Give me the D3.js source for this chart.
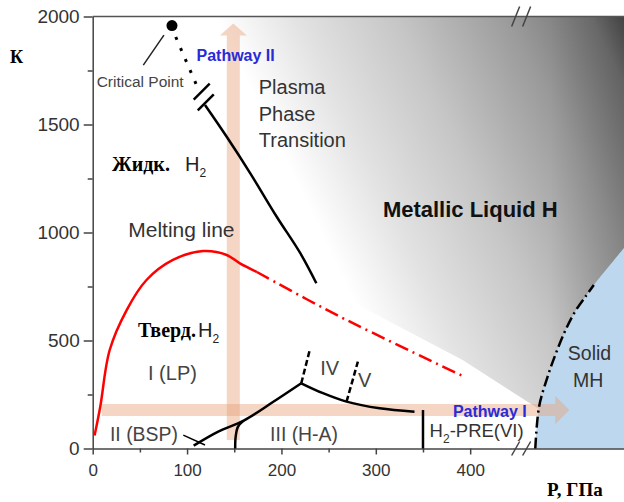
<!DOCTYPE html>
<html>
<head>
<meta charset="utf-8">
<script src="https://cdn.jsdelivr.net/npm/d3@7"></script>
<style>
  body { margin: 0; background: #fff; }
  text { font-family: "Liberation Sans", Arial, sans-serif; }
  .ru { font-family: "Liberation Serif", "Times New Roman", serif; font-weight: bold; fill: #000; }
</style>
</head>
<body>
<main></main>
<script>
// pressure P (GPa) and temperature T (K)
var xTicks = [0, 100, 200, 300, 400];
var xMinor = [50, 150, 250, 350];
var yTicks = [0, 500, 1000, 1500, 2000];
var yMinor = [250, 750, 1250, 1750];

var meltP = [2, 8, 18, 36, 57, 85, 117, 142, 156, 174];
var meltT = [60, 193, 456, 641, 780, 873, 914, 896, 857, 817];
var meltExtP = [174, 259, 392];
var meltExtT = [817, 617, 336];

var plasmaP = [119, 142, 167, 195, 220, 237];
var plasmaT = [1590, 1443, 1274, 1073, 904, 765];
var critical = [84, 1958];
var critDotsP = [88, 110];
var critDotsT = [1905, 1683];
var critPointerP = [53.6, 75.5];
var critPointerT = [1775, 1914];

var bspP = [107, 133, 160, 191, 221];
var bspT = [13, 78, 129, 215, 302];
var bspTickP = [96, 119];
var bspTickT = [62, 16];
var lpP = [160, 154, 151.5, 151];
var lpT = [129, 101, 55, 0];
var haP = [221, 244, 269, 304, 341];
var haT = [302, 256, 217, 186, 170];
var ivP = [221, 230], ivT = [302, 456];
var vP = [269, 281], vT = [217, 402];
var preP = [350, 350], preT = [0, 178];

var mhP = [469, 473, 482, 491, 501, 512, 523, 531];
var mhT = [0, 193, 332, 442, 548, 640, 708, 757];
var mhEdgeP = [563], mhEdgeT = [928];

var metalP = [237, 392, 472, 563, 563, 100];
var metalT = [765, 410, 185, 185, 2000, 2000];

var pathway1 = { T: 178, P0: 9.5, P1: 505 };
var pathway2 = { P: 149, T0: 39, T1: 1968 };
var breakP = 454;

var W = 624, H = 502;
var svg = d3.select("main").append("svg")
    .attr("width", W)
    .attr("height", H);

var x = d3.scaleLinear().domain([0, 563]).range([92.7, 624]);
var y = d3.scaleLinear().domain([0, 2000]).range([448.5, 16.5]);

var curve = d3.line()
    .x(function(d) { return x(d[0]); })
    .y(function(d) { return y(d[1]); })
    .curve(d3.curveCatmullRom);
var straight = d3.line()
    .x(function(d) { return x(d[0]); })
    .y(function(d) { return y(d[1]); });

var defs = svg.append("defs");
var metal = defs.append("linearGradient")
    .attr("id", "metal")
    .attr("gradientUnits", "userSpaceOnUse")
    .attr("x1", 300).attr("y1", 190)
    .attr("x2", 630).attr("y2", 30);
[[0, "#ffffff"], [0.2, "#e2e2e2"], [0.44, "#c6c6c6"], [0.72, "#9a9a9a"], [0.92, "#727272"], [1, "#4e4e4e"]]
  .forEach(function(s) {
    metal.append("stop").attr("offset", s[0]).attr("stop-color", s[1]);
  });
var edge = defs.append("linearGradient")
    .attr("id", "edge")
    .attr("gradientUnits", "userSpaceOnUse")
    .attr("x1", 550).attr("y1", 0)
    .attr("x2", 624).attr("y2", 0);
edge.append("stop").attr("offset", 0).attr("stop-color", "#000").attr("stop-opacity", 0);
edge.append("stop").attr("offset", 1).attr("stop-color", "#000").attr("stop-opacity", 0.14);

// metallic liquid region
var metalPts = d3.zip(metalP, metalT).concat(d3.zip(plasmaP, plasmaT));
svg.append("path")
    .attr("d", straight(metalPts) + "Z")
    .attr("fill", "url(#metal)");
svg.append("path")
    .attr("d", straight(metalPts) + "Z")
    .attr("fill", "url(#edge)");

// solid metallic hydrogen region
var mhPts = d3.zip(mhP, mhT).concat(d3.zip(mhEdgeP, mhEdgeT));
svg.append("path")
    .attr("d", curve(mhPts) + "L" + x(563) + "," + y(0) + "Z")
    .attr("fill", "#bdd7ee");

// pathway arrows
var ax = x(pathway2.P), ay0 = y(pathway2.T0), ay1 = y(pathway2.T1);
svg.append("path")
    .attr("d", "M" + (ax - 6.5) + "," + ay0 + "V" + (ay1 + 12) + "H" + (ax - 13.5) +
               "L" + ax + "," + ay1 + "L" + (ax + 13.5) + "," + (ay1 + 12) +
               "H" + (ax + 6.5) + "V" + ay0 + "Z")
    .attr("fill", "#e8a27a")
    .attr("fill-opacity", 0.45);
var hy = y(pathway1.T), hx0 = x(pathway1.P0), hx1 = x(pathway1.P1);
svg.append("path")
    .attr("d", "M" + hx0 + "," + (hy - 6) + "H" + (hx1 - 14) + "V" + (hy - 14) +
               "L" + hx1 + "," + hy + "L" + (hx1 - 14) + "," + (hy + 14) +
               "V" + (hy + 6) + "H" + hx0 + "Z")
    .attr("fill", "#e8a27a")
    .attr("fill-opacity", 0.45);

// axes
var xAxis = svg.append("g")
    .attr("transform", "translate(0," + y(0) + ")")
    .call(d3.axisBottom(x).tickValues(xTicks).tickSize(6).tickSizeOuter(0).tickPadding(9));
svg.append("g")
    .attr("transform", "translate(0," + y(0) + ")")
    .call(d3.axisBottom(x).tickValues(xMinor).tickSize(4).tickFormat(""))
    .select(".domain").remove();
var yAxis = svg.append("g")
    .attr("transform", "translate(" + x(0) + ",0)")
    .call(d3.axisLeft(y).tickValues(yTicks).tickFormat(d3.format("d"))
      .tickSize(9).tickSizeOuter(0).tickPadding(4));
svg.append("g")
    .attr("transform", "translate(" + x(0) + ",0)")
    .call(d3.axisLeft(y).tickValues(yMinor).tickSize(5).tickFormat(""))
    .select(".domain").remove();
svg.selectAll(".domain, .tick line").attr("stroke", "#444").attr("stroke-width", 1.5);
xAxis.selectAll("text").attr("font-size", 17).attr("fill", "#333").attr("font-family", null);
yAxis.selectAll("text").attr("font-size", 19).attr("fill", "#333").attr("font-family", null);

svg.append("line")
    .attr("x1", x(0)).attr("x2", x(563))
    .attr("y1", y(2000)).attr("y2", y(2000))
    .attr("stroke", "#555").attr("stroke-width", 1.5);

// axis breaks
[[y(2000), 10], [y(0), 7]].forEach(function(b) {
  [-5.5, 5.5].forEach(function(o) {
    svg.append("line")
      .attr("x1", x(breakP) + o - 4).attr("y1", b[0] + b[1])
      .attr("x2", x(breakP) + o + 4).attr("y2", b[0] - b[1])
      .attr("stroke", "#444").attr("stroke-width", 1.5);
  });
});

// melting line
svg.append("path")
    .attr("d", curve(d3.zip(meltP, meltT)))
    .attr("fill", "none").attr("stroke", "#ff0000").attr("stroke-width", 2.5);
svg.append("path")
    .attr("d", curve(d3.zip(meltExtP, meltExtT)))
    .attr("fill", "none").attr("stroke", "#ff0000").attr("stroke-width", 2.5)
    .attr("stroke-dasharray", "14,5,2,5");

// plasma phase transition
svg.append("path")
    .attr("d", curve(d3.zip(plasmaP, plasmaT)))
    .attr("fill", "none").attr("stroke", "#000").attr("stroke-width", 2.5);
svg.append("path")
    .attr("d", straight(d3.zip(critDotsP, critDotsT)))
    .attr("fill", "none").attr("stroke", "#000").attr("stroke-width", 3)
    .attr("stroke-dasharray", "3,9");
svg.append("path")
    .attr("d", straight(d3.zip(critPointerP, critPointerT)))
    .attr("fill", "none").attr("stroke", "#222").attr("stroke-width", 1.5);
svg.append("circle")
    .attr("cx", x(critical[0])).attr("cy", y(critical[1]))
    .attr("r", 5.5).attr("fill", "#000");
// break marks on the plasma line
[[115.5, 1652], [119.8, 1602]].forEach(function(m) {
  svg.append("line")
    .attr("x1", x(m[0]) - 8).attr("y1", y(m[1]) + 8)
    .attr("x2", x(m[0]) + 8).attr("y2", y(m[1]) - 8)
    .attr("stroke", "#000").attr("stroke-width", 2.5);
});

// solid phase boundaries
[[bspP, bspT, null], [lpP, lpT, null], [haP, haT, null], [bspTickP, bspTickT, null],
 [ivP, ivT, "6,3"], [vP, vT, "6,3"], [preP, preT, null]].forEach(function(l) {
  svg.append("path")
    .attr("d", curve(d3.zip(l[0], l[1])))
    .attr("fill", "none").attr("stroke", "#000")
    .attr("stroke-width", l[0] === bspTickP ? 1.5 : 2.5)
    .attr("stroke-dasharray", l[2]);
});

// metallisation line
svg.append("path")
    .attr("d", curve(d3.zip(mhP, mhT)))
    .attr("fill", "none").attr("stroke", "#000").attr("stroke-width", 2.5)
    .attr("stroke-dasharray", "11,4,2,4");

// labels
function txt(P, T, str, size, fill, bold) {
  return svg.append("text")
    .attr("x", x(P)).attr("y", y(T))
    .attr("font-size", size)
    .attr("font-weight", bold ? "bold" : null)
    .attr("fill", fill || "#333")
    .text(str);
}
function sub(t, s, size, restSize, rest) {
  t.append("tspan").attr("dy", 6).attr("font-size", size).text(s);
  if (rest) t.append("tspan").attr("dy", -6).attr("font-size", restSize).text(rest);
}

txt(4.2, 1674, "Critical Point", 15.5, "#444");
txt(110, 1792, "Pathway II", 16, "#2a2ad8", true);
txt(176, 1641, "Plasma", 20);
txt(176, 1518, "Phase", 20);
txt(176, 1396, "Transition", 20);
txt(37.7, 980, "Melting line", 21);
txt(307.5, 1072, "Metallic Liquid H", 22, "#111", true);
txt(58.6, 317, "I (LP)", 20, "#444");
txt(18.3, 33, "II (BSP)", 19.4, "#444");
txt(188, 37, "III (H-A)", 19.4, "#444");
txt(241, 340, "IV", 20, "#444");
txt(281, 286, "V", 20, "#444");
sub(txt(357, 53, "H", 18.5, "#333"), "2", 12, 18.5, "-PRE(VI)");
txt(503.5, 410, "Solid", 19.5);
txt(509, 286, "MH", 19.5);
txt(381.7, 147, "Pathway I", 16, "#2a2ad8", true);

txt(20.4, 1285, "Жидк.", 20).attr("class", "ru");
sub(txt(97.8, 1285, "H", 20, "#222"), "2", 12);
txt(48, 515, "Тверд.", 20).attr("class", "ru");
sub(txt(111.5, 515, "H", 20, "#222"), "2", 12);

svg.append("text").attr("class", "ru")
    .attr("x", 10).attr("y", 63).attr("font-size", 18).text("К");
svg.append("text").attr("class", "ru")
    .attr("x", 547).attr("y", 496).attr("font-size", 19).text("P, ГПа");
</script>
</body>
</html>
